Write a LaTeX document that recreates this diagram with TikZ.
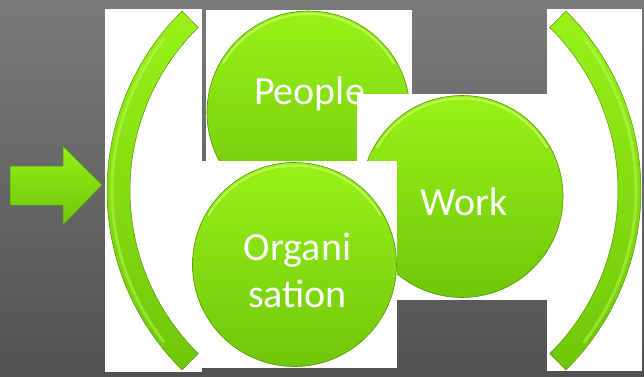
\documentclass[tikz,border=0pt]{standalone}
\usepackage{fontspec}
\setmainfont{Carlito}
\usetikzlibrary{positioning}

\definecolor{bgtop}{RGB}{122,122,122}
\definecolor{bgbot}{RGB}{82,82,82}
\definecolor{limetop}{RGB}{152,242,24}
\definecolor{limebot}{RGB}{112,198,10}
\definecolor{limeedge}{RGB}{84,150,4}
\definecolor{limeglow}{RGB}{196,252,96}

\tikzset{
  ball/.style={circle,inner sep=0pt,outer sep=0pt,top color=limetop,bottom color=limebot,draw=limeedge,line width=0.6pt},
  panel/.style={fill=white},
  word/.style={text=white,font=\fontsize{40}{47}\selectfont,inner sep=0pt,align=center,anchor=base},
  rim/.style={draw=limeglow,line width=2pt,line cap=round,opacity=0.8},
  brace/.style={top color=limetop,bottom color=limebot,draw=limeedge,line width=0.5pt},
  braceglow/.style={draw=limeglow,line width=3pt,opacity=0.45}
}

\begin{document}
\begin{tikzpicture}[x=1pt,y=1pt]

\useasboundingbox (0,0) rectangle (644,376);
\shade[top color=bgtop,bottom color=bgbot] (0,0) rectangle (644,376);

\shade[top color=limetop!90!limebot,bottom color=limebot,draw=limeedge,line width=0.5pt]
  (10,210) -- (63,210) -- (63,230) -- (102,191) -- (63,151) -- (63,171) -- (10,171) -- cycle;

\fill[panel] (105,4) rectangle (202,367);
\fill[panel] (547,5) rectangle (642,367);

\path[brace] (359,185.5) ++(134.6:252) arc[start angle=134.6,end angle=225.4,radius=252]
  -- ++(45.4:23) arc[start angle=225.4,end angle=134.6,radius=229] -- cycle;
\draw[braceglow] (359,185.5) ++(142:247) arc[start angle=142,end angle=218,radius=247];
\path[brace] (389,185.5) ++(-45.4:252) arc[start angle=-45.4,end angle=45.4,radius=252]
  -- ++(225.4:23) arc[start angle=45.4,end angle=-45.4,radius=229] -- cycle;
\draw[braceglow] (389,185.5) ++(-38:247) arc[start angle=-38,end angle=38,radius=247];

\fill[panel] (206,215) rectangle (412,366);
\node[ball,minimum size=203pt] (people) at (308.5,263.5) {};
\draw[rim] (people.center) ++(30:98.5) arc[start angle=30,end angle=150,radius=98.5];
\node[word] (peopletext) at (309.5,272) {People};

\fill[panel] (357,76) rectangle (548,282);
\node[ball,minimum size=202pt] (work) at (462,179.5) {};
\draw[rim] (work.center) ++(30:98) arc[start angle=30,end angle=150,radius=98];
\node[word] (worktext) at (464,161) {Work};

\fill[panel] (200,8) rectangle (397,215);
\node[ball,minimum size=204pt] (org) at (294.5,111.5) {};
\draw[rim] (org.center) ++(30:99) arc[start angle=30,end angle=150,radius=99];
\node[word] (orgtext) at (297.5,69) {Organi\\sation};

\end{tikzpicture}
\end{document}
